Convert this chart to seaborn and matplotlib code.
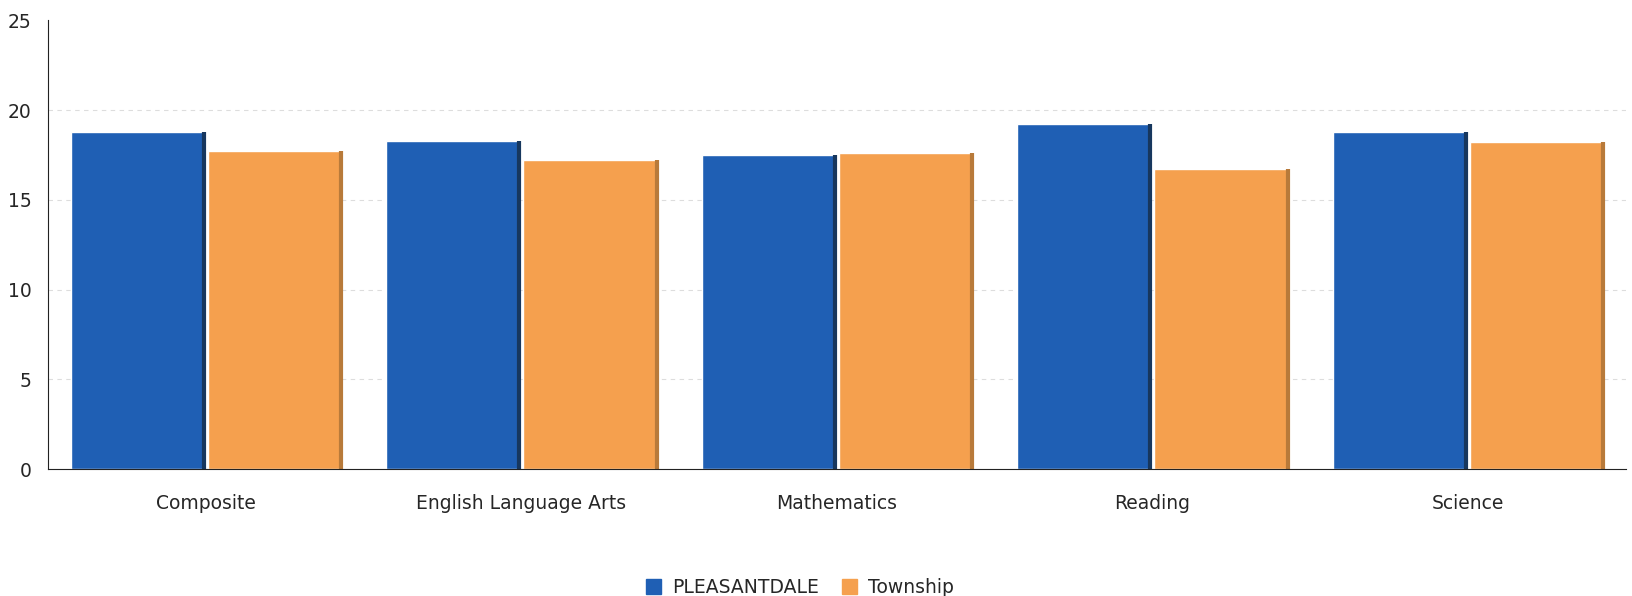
import pandas as pd
import numpy as np
import seaborn as sns
import matplotlib
matplotlib.use("Agg")
import matplotlib.pyplot as plt

# values
subjects = ["Composite", "English Language Arts", "Mathematics", "Reading", "Science"]
pleasantdale = [18.8, 18.3, 17.5, 19.2, 18.8]
township = [17.7, 17.2, 17.6, 16.7, 18.2]
series_names = ["PLEASANTDALE", "Township"]
y_ticks = [0, 5, 10, 15, 20, 25]

df = pd.DataFrame({
    "subject": subjects * 2,
    "score": pleasantdale + township,
    "group": [series_names[0]] * len(subjects) + [series_names[1]] * len(subjects),
})

sns.set_style("white")
plt.rcParams["font.family"] = ["DejaVu Sans"]

fig = plt.figure(figsize=(16.33, 5.96), dpi=100)
ax = fig.add_axes([0.0295, 0.213, 0.966, 0.753])

pal = {"PLEASANTDALE": "#1f5fb4", "Township": "#f5a04e"}
sns.barplot(data=df, x="subject", y="score", hue="group", palette=pal,
            width=0.87, gap=0.03, saturation=1, ax=ax, legend=False)

# darker right edge, a nod to the 3d look of the original
for p, c in zip(ax.patches, ["#17375e"] * 5 + ["#b87a3a"] * 5):
    x = p.get_x() + p.get_width()
    ax.plot([x, x], [0, p.get_height()], color=c, lw=3, solid_capstyle="butt")

ax.set_ylim(0, 25)
ax.set_xlim(-0.5, 4.5)
ax.set_yticks(y_ticks)
ax.set_xlabel("")
ax.set_ylabel("")
for v in y_ticks[1:-1]:
    ax.axhline(v, color="#dddddd", linestyle=(0, (4, 4)), lw=0.8, zorder=0)
for s in ["top", "right"]:
    ax.spines[s].set_visible(False)
ax.spines["left"].set_color("#222222")
ax.spines["bottom"].set_color("#222222")
ax.tick_params(axis="both", labelsize=13.5, length=0)
ax.tick_params(axis="x", pad=18)
ax.tick_params(axis="y", pad=12)

handles = [plt.Rectangle((0, 0), 1, 1, color=pal[n]) for n in series_names]
fig.legend(handles, series_names, loc="lower center", bbox_to_anchor=(0.49, -0.03),
           ncol=2, frameon=False, fontsize=13.5, handlelength=0.8, handleheight=0.8,
           columnspacing=1.2, handletextpad=0.6)

fig.savefig("out.png", dpi=100)
